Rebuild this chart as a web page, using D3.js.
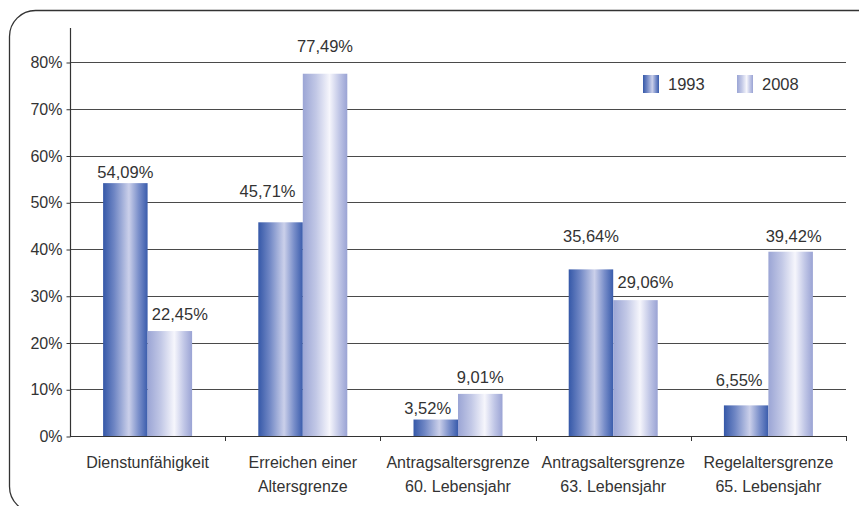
<!DOCTYPE html>
<html>
<head>
<meta charset="utf-8">
<script src="https://cdn.jsdelivr.net/npm/d3@7"></script>
<style>
  html, body { margin: 0; padding: 0; background: #fff; }
  svg text { font-family: "Liberation Sans", Arial, sans-serif; fill: #333; }
</style>
</head>
<body>
<div id="chart"></div>
<script>
// Daten
const categories = [
    ["Dienstunfähigkeit"],
    ["Erreichen einer", "Altersgrenze"],
    ["Antragsaltersgrenze", "60. Lebensjahr"],
    ["Antragsaltersgrenze", "63. Lebensjahr"],
    ["Regelaltersgrenze", "65. Lebensjahr"]
];
const series = ["1993", "2008"];
const values1993 = [54.09, 45.71, 3.52, 35.64, 6.55];
const values2008 = [22.45, 77.49, 9.01, 29.06, 39.42];
const yTicks = [0, 10, 20, 30, 40, 50, 60, 70, 80];

// Verschiebung der Wertebeschriftungen (Pixel, relativ zur Balkenmitte / Balkenoberkante)
const labelShift1993 = [[0, -5], [-13, -25], [-8, -6], [0, -27], [-7, -19]];
const labelShift2008 = [[10, -11], [0, -22], [0, -11], [10, -12], [3, -10]];

const W = 859, H = 506;
const left = 70, right = 846, bottom = 436;

const svg = d3.select("#chart").append("svg")
    .attr("width", W)
    .attr("height", H);

// Verläufe
const defs = svg.append("defs");
function addGradient(id, stops) {
    const g = defs.append("linearGradient")
        .attr("id", id)
        .attr("x1", "0%").attr("x2", "100%")
        .attr("y1", "0%").attr("y2", "0%");
    stops.forEach(s => g.append("stop").attr("offset", s[0]).attr("stop-color", s[1]));
}
addGradient("g1993", [["0%", "#3558a8"], ["25%", "#6f86c4"], ["58%", "#cbd0ea"], ["80%", "#7a8fca"], ["100%", "#3a5cac"]]);
addGradient("g2008", [["0%", "#9ba5d5"], ["30%", "#c2c8e6"], ["60%", "#f6f6fc"], ["82%", "#c0c6e6"], ["100%", "#9aa3d4"]]);

// Rahmen mit abgerundeten Ecken
svg.append("rect")
    .attr("x", 9.5).attr("y", 10.5)
    .attr("width", 880).attr("height", 502)
    .attr("rx", 26).attr("ry", 26)
    .attr("fill", "none")
    .attr("stroke", "#333")
    .attr("stroke-width", 1.3);

// Skalen
const x0 = d3.scaleBand()
    .domain(d3.range(categories.length))
    .range([left, right])
    .paddingInner(0)
    .paddingOuter(0);

const x1 = d3.scaleBand()
    .domain(series)
    .range([0, x0.bandwidth()])
    .paddingInner(0)
    .paddingOuter(0.744);

const y = d3.scaleLinear()
    .domain([0, 80])
    .range([bottom, 62]);

// Gitterlinien
svg.append("g")
    .selectAll("line")
    .data(yTicks.filter(d => d > 0))
    .enter().append("line")
    .attr("x1", left).attr("x2", right)
    .attr("y1", d => Math.round(y(d)) + 0.5)
    .attr("y2", d => Math.round(y(d)) + 0.5)
    .attr("stroke", "#4a4a4a")
    .attr("stroke-width", 1.2);

// Y-Achse
const yAxis = svg.append("g")
    .attr("transform", `translate(${left + 0.5},0.5)`)
    .call(d3.axisLeft(y).tickValues(yTicks).tickSize(4).tickPadding(4).tickFormat(d => d + "%"));
yAxis.select(".domain").remove();
yAxis.selectAll(".tick line").attr("stroke", "#333");
yAxis.selectAll(".tick text")
    .attr("font-size", "16px")
    .attr("fill", "#333")
    .attr("font-family", "'Liberation Sans', Arial, sans-serif");

svg.append("line")
    .attr("x1", left + 0.5).attr("x2", left + 0.5)
    .attr("y1", 28).attr("y2", bottom + 1)
    .attr("stroke", "#333")
    .attr("stroke-width", 1.2);

// Balken
const rows = categories.map((c, i) => ({ i, v: [values1993[i], values2008[i]] }));
const groups = svg.append("g").selectAll("g")
    .data(rows)
    .enter().append("g")
    .attr("transform", d => `translate(${x0(d.i)},0)`);

groups.selectAll("rect")
    .data(d => series.map((s, k) => ({ s, v: d.v[k] })))
    .enter().append("rect")
    .attr("x", d => x1(d.s))
    .attr("y", d => y(d.v))
    .attr("width", x1.bandwidth())
    .attr("height", d => y(0) - y(d.v))
    .attr("fill", d => `url(#g${d.s})`);

// Wertebeschriftungen
groups.selectAll("text.value")
    .data(d => series.map((s, k) => ({
        s, v: d.v[k],
        sh: (k === 0 ? labelShift1993 : labelShift2008)[d.i]
    })))
    .enter().append("text")
    .attr("class", "value")
    .attr("x", d => x1(d.s) + x1.bandwidth() / 2 + d.sh[0])
    .attr("y", d => y(d.v) + d.sh[1])
    .attr("text-anchor", "middle")
    .attr("font-size", "16.5px")
    .text(d => d.v.toFixed(2).replace(".", ",") + "%");

// X-Achse
svg.append("line")
    .attr("x1", left).attr("x2", right + 0.5)
    .attr("y1", bottom + 0.5).attr("y2", bottom + 0.5)
    .attr("stroke", "#333")
    .attr("stroke-width", 1.2);

svg.append("g").selectAll("line")
    .data(d3.range(1, categories.length + 1))
    .enter().append("line")
    .attr("x1", d => Math.round(x0(d - 1) + x0.bandwidth()) + 0.5)
    .attr("x2", d => Math.round(x0(d - 1) + x0.bandwidth()) + 0.5)
    .attr("y1", bottom)
    .attr("y2", bottom + 5)
    .attr("stroke", "#333");

// Kategorienbeschriftungen
const catLabels = svg.append("g").selectAll("text")
    .data(categories)
    .enter().append("text")
    .attr("x", (d, i) => x0(i) + x0.bandwidth() / 2)
    .attr("y", 468)
    .attr("text-anchor", "middle")
    .attr("font-size", "16px");
catLabels.selectAll("tspan")
    .data(d => d)
    .enter().append("tspan")
    .attr("x", function() { return d3.select(this.parentNode).attr("x"); })
    .attr("dy", (d, i) => i === 0 ? 0 : 23.5)
    .text(d => d);

// Legende
const legend = svg.append("g").selectAll("g")
    .data(series)
    .enter().append("g")
    .attr("transform", (d, i) => `translate(${643 + i * 94},75)`);
legend.append("rect")
    .attr("width", 16).attr("height", 18)
    .attr("fill", d => `url(#g${d})`);
legend.append("text")
    .attr("x", 25).attr("y", 15)
    .attr("font-size", "16.5px")
    .text(d => d);
</script>
</body>
</html>
